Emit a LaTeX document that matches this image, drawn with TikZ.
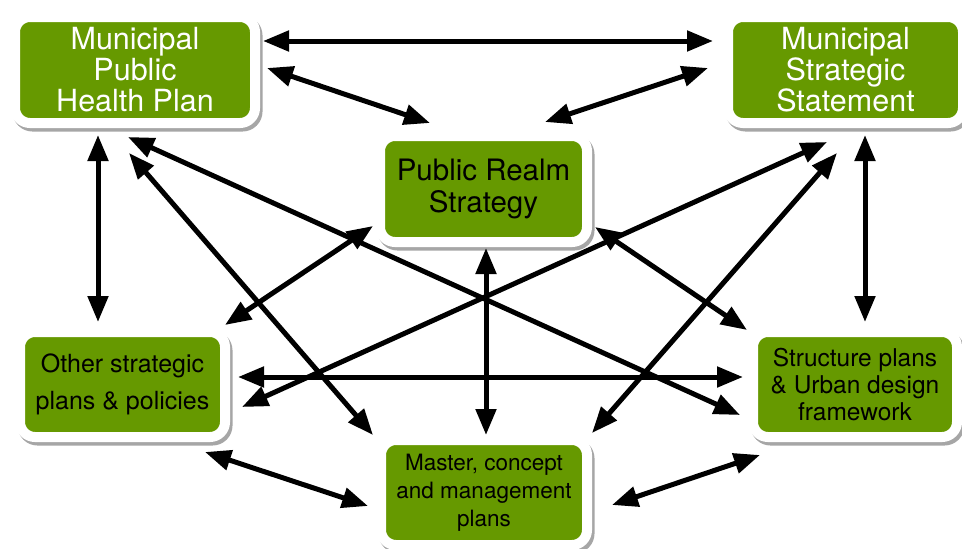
\documentclass[tikz,border=0pt]{standalone}
\usepackage{fontspec}
\setmainfont{TeX Gyre Heros}
\usetikzlibrary{arrows.meta,shadows,calc}
\definecolor{boxgreen}{RGB}{102,153,0}
\begin{document}
\begin{tikzpicture}[x=1pt,y=-1pt,
  box/.style={fill=boxgreen, draw=white, line width=10pt, rounded corners=15pt,
    inner sep=0pt, align=center,
    drop shadow={shadow xshift=2.5pt, shadow yshift=-3.5pt, fill=black, draw=black, line width=10pt, opacity=.35}},
  link/.style={line width=5pt, {Triangle[length=26pt,width=20pt]}-{Triangle[length=26pt,width=20pt]}},
  bigwhite/.style={text=white, font=\fontsize{30.5}{31}\selectfont}]
\useasboundingbox (0,0) rectangle (962,549);
\clip (0,0) rectangle (962,549);
% boxes
\node[box, bigwhite, minimum width=240pt, minimum height=106pt] (mphp) at (135,70) {Municipal\\Public\\Health Plan};
\node[box, bigwhite, minimum width=235pt, minimum height=106pt] (mss) at (845.5,70) {Municipal\\Strategic\\Statement};
\node[box, font=\fontsize{29.5}{32}\selectfont, minimum width=207pt, minimum height=106pt] (prs) at (483.5,189) {Public Realm\\Strategy};
\node[box, font=\fontsize{25}{37}\selectfont, minimum width=205pt, minimum height=105pt] (osp) at (122.5,384.5) {Other strategic\\plans \& policies};
\node[box, font=\fontsize{24.5}{27}\selectfont, minimum width=204pt, minimum height=105pt] (sp) at (855,384.5) {Structure plans\\\& Urban design\\framework};
\node[box, font=\fontsize{22.5}{28}\selectfont, minimum width=206pt, minimum height=105pt] (mcmp) at (484,492.5) {Master, concept\\and management\\plans};
% connectors
\draw[link] ($(mphp)+(128,-29)$) -- ($(mss)+(-132.5,-29)$);
\draw[link] ($(mphp)+(132,-2)$) -- ($(prs)+(-53.5,-66)$);
\draw[link] ($(mss)+(-137.5,-2)$) -- ($(prs)+(61.5,-67)$);
\draw[link] ($(mphp)+(-37,65)$) -- ($(osp)+(-24.5,-62.5)$);
\draw[link] ($(mss)+(19.5,65)$) -- ($(sp)+(10,-62.5)$);
\draw[link] ($(mphp)+(-7,67)$) -- ($(sp)+(-115,30.5)$);
\draw[link] ($(mphp)+(-6,83)$) -- ($(mcmp)+(-111,-57.5)$);
\draw[link] ($(mss)+(-18.5,72)$) -- ($(osp)+(119.5,22.5)$);
\draw[link] ($(mss)+(-8.5,83)$) -- ($(mcmp)+(108,-59.5)$);
\draw[link] ($(prs)+(-110.5,37)$) -- ($(osp)+(102.5,-59.5)$);
\draw[link] ($(prs)+(111.5,38)$) -- ($(sp)+(-108,-54.5)$);
\draw[link] ($(prs)+(2.5,59)$) -- ($(mcmp)+(2,-57.5)$);
\draw[link] ($(osp)+(115.5,-7.5)$) -- ($(sp)+(-112,-7.5)$);
\draw[link] ($(osp)+(82.5,67.5)$) -- ($(mcmp)+(-116,13.5)$);
\draw[link] ($(sp)+(-95,70.5)$) -- ($(mcmp)+(128,12.5)$);
\end{tikzpicture}
\end{document}
